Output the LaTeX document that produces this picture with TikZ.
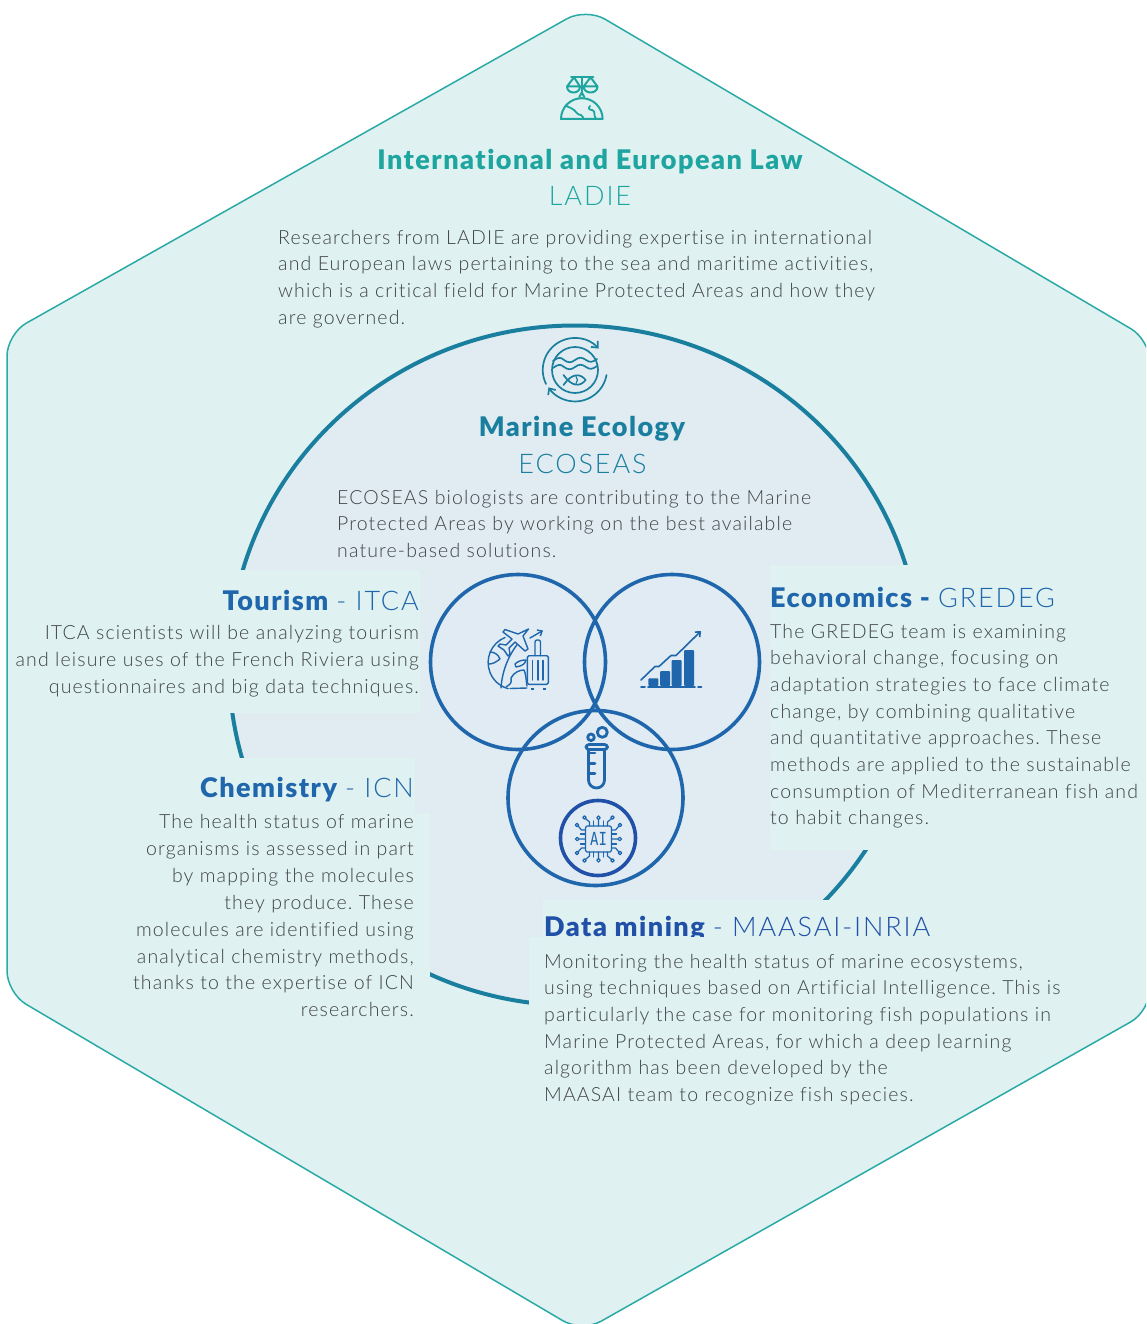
\documentclass[tikz,border=0pt]{standalone}
\usepackage{fontspec}
\usepackage{graphicx}
\usetikzlibrary{arrows.meta}
\frenchspacing
\newfontfamily\bodyf[LetterSpace=5.8,Ligatures=NoCommon]{Lato Light}
\newfontfamily\headb[LetterSpace=5.5,Ligatures=NoCommon]{Lato Black}
\newfontfamily\headl[LetterSpace=7,Ligatures=NoCommon]{Lato Light}
\newfontfamily\monof{DejaVu Sans Mono}
\definecolor{hexfill}{HTML}{DFF1F0}
\definecolor{hexline}{HTML}{2AAAA6}
\definecolor{circfill}{HTML}{E0ECF2}
\definecolor{circline}{HTML}{1A7F9F}
\definecolor{vennfill}{HTML}{E0EBF4}
\definecolor{vennline}{HTML}{1F66AC}
\definecolor{aiblue}{HTML}{2050A8}
\definecolor{lawteal}{HTML}{1FA5A0}
\definecolor{bodygrey}{HTML}{3F4348}
\tikzset{
  bodyl/.style={inner sep=0pt,anchor=base west,yshift=-1.4pt,text=bodygrey,font=\bodyf\fontsize{19.5}{24}\selectfont},
  bodyr/.style={inner sep=0pt,anchor=base east,yshift=-1.4pt,text=bodygrey,font=\bodyf\fontsize{19.5}{24}\selectfont},
  headc/.style={inner sep=0pt,anchor=base,yshift=-1.4pt,font=\fontsize{27}{30}\selectfont},
  headr/.style={inner sep=0pt,anchor=base east,yshift=-1.4pt,font=\fontsize{27}{30}\selectfont},
  headw/.style={inner sep=0pt,anchor=base west,yshift=-1.4pt,font=\fontsize{27}{30}\selectfont},
  mask/.style={fill=hexfill,draw=none},
  vennf/.style={fill=vennfill,fill opacity=0.75},
  vennc/.style={draw=vennline,line width=3.6pt},
  lawicon/.style={draw=lawteal,line width=2pt,line cap=round,line join=round},
  fishicon/.style={draw=circline,line width=1.7pt,line cap=round,line join=round},
  tricon/.style={draw=vennline,line width=1.4pt,line cap=round,line join=round},
  tube/.style={draw=vennline,line width=2.8pt,line cap=round,line join=round},
  chip/.style={draw=vennline,line width=1.2pt,line cap=round,line join=round},
}
\begin{document}
\begin{tikzpicture}[x=1pt,y=1pt,yscale=-1]
\useasboundingbox (0,0) rectangle (1146,1324);
\clip (0,0) rectangle (1146,1324);
% hexagon
\path[fill=hexfill,draw=hexline,line width=1.5pt,rounded corners=22pt]
  (586,8) -- (1150,340) -- (1150,1011) -- (582,1332) -- (7,993) -- (7,334) -- cycle;
% big circle
\path[fill=circfill,draw=circline,line width=4pt] (575,665.5) ellipse [x radius=346,y radius=340];
% masks
\path[mask] (100,570) rectangle (420,713);
\path[mask] (100,758) rectangle (415,813);
\path[mask] (100,813) rectangle (430,1045);
\path[mask] (770,565) rectangle (1100,850);
\path[mask] (543,900) rectangle (1000,937);
% venn
\path[vennf] (518,662) circle [radius=87.5];
\path[vennf] (672,662) circle [radius=87.5];
\path[vennf] (595.5,798) circle [radius=87.5];
\path[vennc] (518,662) circle [radius=87.5];
\path[vennc] (672,662) circle [radius=87.5];
\path[vennc] (595.5,798) circle [radius=87.5];
\path[draw=aiblue,line width=3.6pt] (598,838) circle [radius=37.5];
% law icon
\path[lawicon] (571,77.3) -- (593.3,77.3) (581.8,77.3) -- (581.8,93);
\path[lawicon] (579.3,97) -- (581.8,92.5) -- (584.3,97);
\path[lawicon] (574,77.3) -- (567,86.5) -- (580,86.5) -- (574,77.3) (567,86.5) .. controls (567,94.5) and (580,94.5) .. (580,86.5);
\path[lawicon] (590.5,77.3) -- (583.7,86.5) -- (597.5,86.5) -- (590.5,77.3) (583.7,86.5) .. controls (583.7,94.5) and (597.5,94.5) .. (597.5,86.5);
\path[lawicon] (561,119) arc [start angle=180,end angle=360,radius=20.8] -- cycle;
\path[lawicon,line width=1.8pt] (565.5,105.5) .. controls (570,108) and (572,108) .. (574,110) .. controls (577,112) and (577,115) .. (581,115) .. controls (583,116) and (583,118) .. (583.5,119);
\path[lawicon,line width=1.8pt] (590,106) .. controls (588,108) and (589,110) .. (592,110) .. controls (596,111) and (593,115) .. (596,119);
% fish icon
\path[fishicon] (575,370) circle [radius=23];
\path[fishicon,-{Straight Barb[length=5pt,width=9pt]}] (546,384) arc [start angle=-206,end angle=-42,radius=32];
\path[fishicon,-{Straight Barb[length=5pt,width=9pt]}] (606.5,375) arc [start angle=10,end angle=146,radius=32];
\path[fishicon] (553,361) .. controls (558,357) and (561,357) .. (564,360) .. controls (568,363) and (571,363) .. (575,360) .. controls (579,357) and (582,357) .. (586,360) .. controls (590,363) and (593,362) .. (597,359);
\path[fishicon] (553,368) .. controls (558,364) and (561,364) .. (564,367) .. controls (568,370) and (571,370) .. (575,367) .. controls (579,364) and (582,364) .. (586,367) .. controls (590,370) and (593,369) .. (597,366);
\path[fishicon] (563.5,385) .. controls (572,373) and (580,373) .. (585.7,380) .. controls (580,387) and (572,387) .. (563.5,375);
\path[fishicon,line width=1.2pt] (576,376.5) .. controls (578,379) and (578,381) .. (576,383.5);
% tourism icon
\path[tricon] (505,637.5) arc [start angle=-112,end angle=-255,radius=27];
\path[tricon] (510,688.5) -- (527,688);
\path[tricon] (520,641) .. controls (508,655) and (502,672) .. (501,688);
\path[tricon] (490,652) .. controls (494,652) and (498,654) .. (500,659) .. controls (496,662) and (493,664) .. (489,664);
\path[tricon] (515,664) .. controls (518,661) and (522,660) .. (526,660) .. controls (525,664) and (522,666) .. (516,667) -- cycle;
\path[tricon] (506,687) .. controls (510,684) and (512,684) .. (511,678) .. controls (514,672) and (520,670) .. (524,670) .. controls (526,674) and (526,680) .. (527,686);
\path[tricon,fill=vennfill] (528.5,629) -- (523,636) -- (528,649) -- (525,651) -- (515,642) -- (509,648) -- (510,654) -- (508,656) -- (504,650) -- (498,646) -- (500,644) -- (506,645) -- (512,639) -- (503,632) -- (505,629.5) -- (518,634) -- cycle;
\path[tricon,->,>={Straight Barb[length=4pt,width=7pt]}] (530,638) -- (543,630.5);
\path[tricon,fill=vennfill,rounded corners=1.5pt] (527.3,655.7) rectangle (548.3,684.3);
\path[tricon,rounded corners=2pt] (535,655.7) -- (535,640) -- (540.5,640) -- (540.5,655.7);
\path[tricon] (532.5,660.5) -- (532.5,680) (537.8,660.5) -- (537.8,680) (543,660.5) -- (543,680);
\path[tricon,line width=2pt,line cap=butt] (530.5,688.5) -- (533.5,688.5) (542.5,688.5) -- (545.5,688.5);
% chart icon
\path[fill=vennline,rounded corners=1pt] (648.3,686) -- (648.3,678.3) -- (658.3,678.3) -- (658.3,686) -- cycle;
\path[fill=vennline,rounded corners=1pt] (660,686) -- (660,671) -- (670,671) -- (670,686) -- cycle;
\path[fill=vennline,rounded corners=1pt] (671.7,686) -- (671.7,660) -- (681.7,660) -- (681.7,686) -- cycle;
\path[fill=vennline,rounded corners=1pt] (684,686) -- (684,650) -- (694,650) -- (694,686) -- cycle;
\path[tricon,line width=1.6pt] (641,686.7) -- (645,686.7) (648,686.7) -- (695,686.7) (698,686.7) -- (701.5,686.7);
\path[tricon,line width=1.6pt,->,>={Straight Barb[length=4pt,width=7pt]}] (641,680) -- (655,666.5) -- (659,666.5) -- (671,655.5) -- (676,655.5) -- (701,631);
% test tube
\path[tube] (591,737.3) circle [radius=3.3];
\path[tube] (602.3,732.3) circle [radius=5];
\path[tube,rounded corners=3pt] (586,744.5) rectangle (607.5,749.5);
\path[tube] (588.5,750) -- (588.5,780) arc [start angle=180,end angle=0,radius=8] -- (604.5,750);
\path[tube] (589,753) -- (595,753) (589,763.5) -- (595,763.5) (589,773.5) -- (595,773.5);
% ai chip
\path[chip,rounded corners=1.5pt] (585.5,826) rectangle (611.5,852);
\node[inner sep=0pt,text=vennline,font=\monof\fontsize{18}{20}\selectfont] (aitext) at (598.5,839) {\scalebox{0.78}[1]{AI}};
\foreach \r in {0,90,180,270}{
  \begin{scope}[shift={(598.5,839)},rotate=\r]
    \path[chip] (0,-13) -- (0,-19.5) (0,-21.3) circle [radius=1.8];
    \path[chip] (-5,-13) -- (-5,-18) (5,-13) -- (5,-18);
    \path[chip] (-9,-13) -- (-9,-17) -- (-12.5,-20) (-14,-21.5) circle [radius=1.8];
    \path[chip] (9,-13) -- (9,-17) -- (12.5,-20) (14,-21.5) circle [radius=1.8];
  \end{scope}
}
% texts: law
\node[headc,text=lawteal] (lawt) at (590,168) {\headb International and European Law};
\node[headc,text=lawteal] (laws) at (590,204) {\headl LADIE};
\node[bodyl] (l1) at (278,243) {Researchers from LADIE are providing expertise in international};
\node[bodyl] (l2) at (278,269.5) {and European laws pertaining to the sea and maritime activities,};
\node[bodyl] (l3) at (278,296) {which is a critical field for Marine Protected Areas and how they};
\node[bodyl] (l4) at (278,323) {are governed.};
% ecology
\node[headc,text=circline] (ecot) at (582,435) {\headb Marine Ecology};
\node[headc,text=circline] (ecos) at (582.5,472) {\headl ECOSEAS};
\node[bodyl] (e1) at (337,503) {ECOSEAS biologists are contributing to the Marine};
\node[bodyl] (e2) at (337,529.5) {Protected Areas by working on the best available};
\node[bodyl] (e3) at (337,556) {nature-based solutions.};
% tourism
\node[headr,text=vennline] (tourt) at (419,609.5) {{\headb Tourism} {\headl - ITCA}};
\node[bodyr] (t1) at (419,638) {ITCA scientists will be analyzing tourism};
\node[bodyr] (t2) at (419,665) {and leisure uses of the French Riviera using};
\node[bodyr] (t3) at (419,692) {questionnaires and big data techniques.};
% chemistry
\node[headr,text=vennline] (chemt) at (414,796.5) {{\headb Chemistry} {\headl - ICN}};
\node[bodyr] (c1) at (414,827.5) {The health status of marine};
\node[bodyr] (c2) at (414,854.5) {organisms is assessed in part};
\node[bodyr] (c3) at (414,881.5) {by mapping the molecules};
\node[bodyr] (c4) at (414,908) {they produce. These};
\node[bodyr] (c5) at (414,935) {molecules are identified using};
\node[bodyr] (c6) at (414,962) {analytical chemistry methods,};
\node[bodyr] (c7) at (414,988) {thanks to the expertise of ICN};
\node[bodyr] (c8) at (414,1015) {researchers.};
% economics
\node[headw,text=vennline] (econt) at (770,606.5) {{\headb Economics -} {\headl GREDEG}};
\node[bodyl] (g1) at (770,637) {The GREDEG team is examining};
\node[bodyl] (g2) at (770,663.5) {behavioral change, focusing on};
\node[bodyl] (g3) at (770,690) {adaptation strategies to face climate};
\node[bodyl] (g4) at (770,717) {change, by combining qualitative};
\node[bodyl] (g5) at (770,743.5) {and quantitative approaches. These};
\node[bodyl] (g6) at (770,770) {methods are applied to the sustainable};
\node[bodyl] (g7) at (770,797) {consumption of Mediterranean fish and};
\node[bodyl] (g8) at (770,823.5) {to habit changes.};
% data mining
\node[headw,text=aiblue] (datat) at (544,935) {{\headb Data mining} {\headl - MAASAI-INRIA}};
\path[mask] (529,937) rectangle (900,1035);
\node[bodyl] (d1) at (544,967) {Monitoring the health status of marine ecosystems,};
\node[bodyl] (d2) at (544,993.5) {using techniques based on Artificial Intelligence. This is};
\node[bodyl] (d3) at (544,1020) {particularly the case for monitoring fish populations in};
\node[bodyl] (d4) at (544,1047) {Marine Protected Areas, for which a deep learning};
\node[bodyl] (d5) at (544,1073.5) {algorithm has been developed by the};
\node[bodyl] (d6) at (544,1100) {MAASAI team to recognize fish species.};
\end{tikzpicture}
\end{document}
